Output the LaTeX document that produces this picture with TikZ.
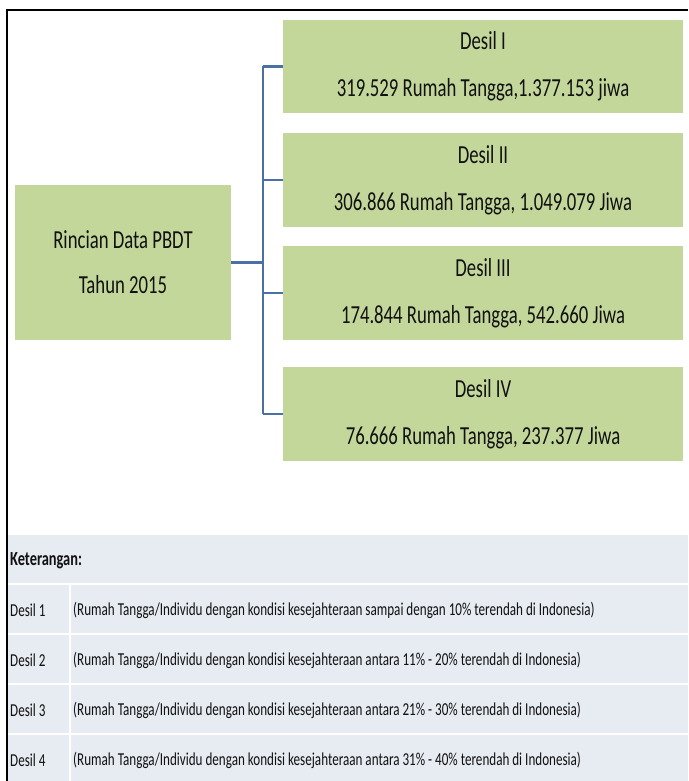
\documentclass[tikz,border=0pt]{standalone}
\usepackage{fontspec}
\setmainfont{Carlito}[FakeStretch=0.72]
\definecolor{boxgreen}{HTML}{C4D79B}
\definecolor{linkblue}{HTML}{4A70A6}
\definecolor{tablebg}{HTML}{E7EBF2}
\definecolor{txt}{HTML}{111111}
\tikzset{
  greenbox/.style={fill=boxgreen, draw=none, inner sep=0pt, align=center, text=txt},
  desilbox/.style={greenbox, minimum width=400pt, minimum height=94pt,
     font=\fontsize{26}{47}\selectfont},
  link/.style={draw=linkblue, line width=2.6pt},
  sep/.style={draw=white, line width=2pt},
  celltext/.style={anchor=west, inner sep=0pt, text=txt, font=\fontsize{18.2}{20}\selectfont},
  headtext/.style={anchor=west, inner sep=0pt, text=txt, font=\bfseries\fontsize{20}{24}\selectfont}
}
\begin{document}
\begin{tikzpicture}[x=1pt,y=-1pt]
\useasboundingbox (0,0) rectangle (688,781);
\fill[white] (0,0) rectangle (688,781);
% legend table background
\fill[tablebg] (8,535) rectangle (688,781);
\draw[sep] (8,584) -- (688,584);
\draw[sep] (8,634) -- (688,634);
\draw[sep] (8,684) -- (688,684);
\draw[sep] (8,734) -- (688,734);
\draw[sep] (70,584) -- (70,781);
% frame
\draw[black, line width=2.4pt] (688,10) -- (7,10) -- (7,781);
% boxes
\node[greenbox, minimum width=216pt, minimum height=155pt,
      font=\fontsize{26}{45}\selectfont] (root) at (123,262.5)
      {Rincian Data PBDT\\Tahun 2015};
\node[desilbox, minimum height=93pt] (d1) at (483,66.5)
      {Desil I\\319.529 Rumah Tangga,1.377.153 jiwa};
\node[desilbox] (d2) at (483,180)
      {Desil II\\306.866 Rumah Tangga, 1.049.079 Jiwa};
\node[desilbox] (d3) at (483,293)
      {Desil III\\174.844 Rumah Tangga, 542.660 Jiwa};
\node[desilbox] (d4) at (483,414)
      {Desil IV\\76.666 Rumah Tangga, 237.377 Jiwa};
% connectors
\coordinate (bus) at (263,262.5);
\draw[link] (root.east) -- (root.east -| bus);
\draw[link] (d1.west -| bus) -- (d4.west -| bus);
\foreach \n in {d1,d2,d3,d4}{
  \draw[link] (\n.west -| bus) -- (\n.west);
}
% legend text
\node[headtext] (ket) at (10,561) {Keterangan:};
\node[celltext] (k1) at (10,610) {Desil 1};
\node[celltext] (k2) at (10,660) {Desil 2};
\node[celltext] (k3) at (10,710) {Desil 3};
\node[celltext] (k4) at (10,760) {Desil 4};
\node[celltext] (t1) at (73,610) {(Rumah Tangga/Individu dengan kondisi kesejahteraan sampai dengan 10\% terendah di Indonesia)};
\node[celltext] (t2) at (73,660) {(Rumah Tangga/Individu dengan kondisi kesejahteraan antara 11\% - 20\% terendah di Indonesia)};
\node[celltext] (t3) at (73,710) {(Rumah Tangga/Individu dengan kondisi kesejahteraan antara 21\% - 30\% terendah di Indonesia)};
\node[celltext] (t4) at (73,760) {(Rumah Tangga/Individu dengan kondisi kesejahteraan antara 31\% - 40\% terendah di Indonesia)};
\end{tikzpicture}
\end{document}
